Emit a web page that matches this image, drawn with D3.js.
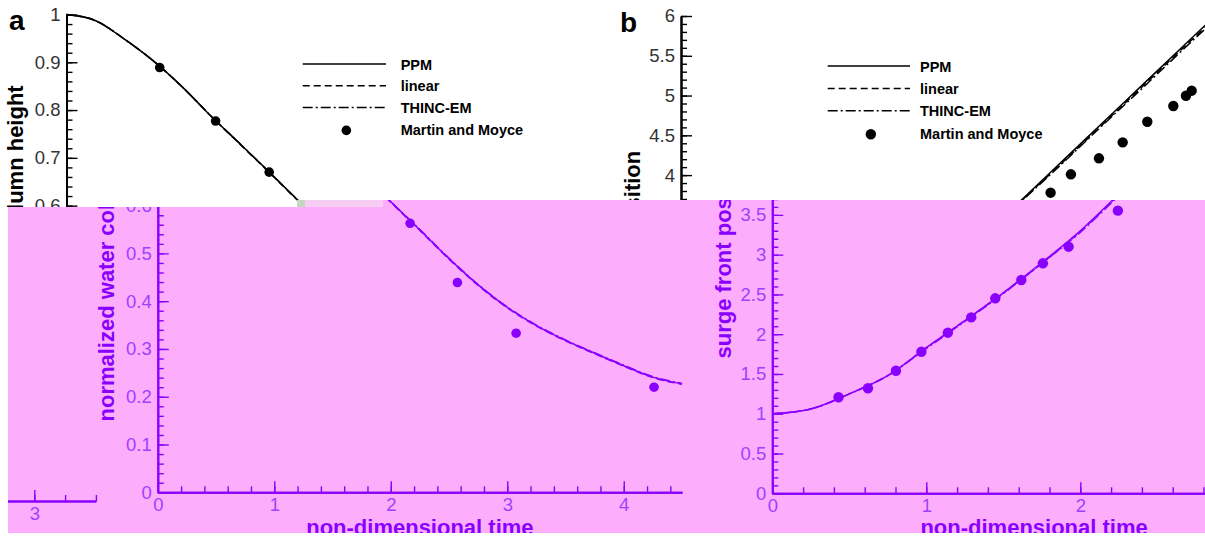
<html>
<script src='https://d3js.org/d3.v7.min.js'></script>
<style> body {margin:0; background:white;} text {font-family: Arial, "Liberation Sans", sans-serif;} </style>
<body>
<svg width=1205 height=536></svg>
<script>
// panel a: normalized water column height vs time
var tA = [0,0.25,0.5,0.75,1,1.25,1.5,1.75,2,2.25,2.5,2.75,3,3.25,3.5,3.75,4,4.25,4.5];
var ppmA    = [1.000,0.987,0.948,0.902,0.847,0.785,0.727,0.668,0.608,0.549,0.489,0.434,0.387,0.349,0.318,0.291,0.265,0.241,0.227];
var linearA = [1.000,0.987,0.948,0.902,0.847,0.785,0.726,0.667,0.607,0.548,0.488,0.433,0.386,0.348,0.317,0.290,0.264,0.240,0.226];
var thincA  = [1.000,0.987,0.948,0.902,0.847,0.785,0.727,0.668,0.608,0.550,0.490,0.435,0.388,0.350,0.319,0.292,0.266,0.242,0.228];
var mmTA = [0.80,1.28,1.74,2.166,2.572,3.076,4.26];
var mmHA = [0.889,0.777,0.670,0.563,0.439,0.333,0.220];

// panel b: surge front position vs time
var tB = [0,0.25,0.5,0.75,1,1.25,1.5,1.75,2,2.25,2.5,2.75,3,3.25,3.5];
var ppmB    = [1.00,1.06,1.25,1.48,1.83,2.17,2.52,2.90,3.30,3.76,4.22,4.68,5.14,5.60,6.06];
var linearB = [1.00,1.06,1.25,1.48,1.83,2.17,2.52,2.89,3.29,3.75,4.20,4.66,5.12,5.58,6.03];
var thincB  = [1.00,1.06,1.25,1.48,1.82,2.16,2.51,2.89,3.28,3.74,4.19,4.65,5.10,5.56,6.01];
var mmTB = [0.430,0.621,0.803,0.968,1.140,1.292,1.448,1.617,1.757,1.924,2.244,2.40,2.532,2.714,2.868,3.028,3.197,3.279,3.316];
var mmXB = [1.207,1.320,1.541,1.780,2.019,2.212,2.451,2.681,2.891,3.100,3.553,3.779,4.010,4.211,4.412,4.671,4.869,4.998,5.061];

var aYTicks = [0,0.1,0.2,0.3,0.4,0.5,0.6,0.7,0.8,0.9,1];
var aYLabels = ["0","0.1","0.2","0.3","0.4","0.5","0.6","0.7","0.8","0.9","1"];
var aXTicks = [0,1,2,3,4];
var bYTicks = [0,0.5,1,1.5,2,2.5,3,3.5,4,4.5,5,5.5,6];
var bYLabels = ["0","0.5","1","1.5","2","2.5","3","3.5","4","4.5","5","5.5","6"];
var bXTicks = [0,1,2,3];
var legendNames = ["PPM","linear","THINC-EM","Martin and Moyce"];
var dashes = [null,"7,4","10,3,2,3"];

var xA = d3.scaleLinear().domain([0,4.5]).range([66.5,590.7]);
var yA = d3.scaleLinear().domain([0,1]).range([492.3,14.5]);
var xB = d3.scaleLinear().domain([0,3.4]).range([681,1204.6]);
var yB = d3.scaleLinear().domain([0,6]).range([493.3,16]);

var svg = d3.select("svg");
var defs = svg.append("defs");
defs.append("clipPath").attr("id","top").append("path").attr("d","M0,0H1205V200H300V207H0Z");
defs.append("clipPath").attr("id","band").append("path").attr("d","M8,207H300V200H1205V533H8Z");
defs.append("clipPath").attr("id","wrap").append("rect").attr("x",8).attr("y",200).attr("width",90).attr("height",333);

function styleAxis(ax, ink, tickInk) {
	ax.attr("font-family", null).attr("font-size", null);
	ax.select(".domain").attr("stroke", ink).attr("stroke-width", 2);
	ax.selectAll(".tick line").attr("stroke", ink).attr("stroke-width", 1.4);
	ax.selectAll(".tick text").attr("fill", tickInk).style("font-size", "18.5px");
}

function panel(g, p, ink, tickInk) {
	var x = p.x, y = p.y;
	var x0 = x.range()[0], y0 = y.range()[0];

	// minor ticks
	styleAxis(g.append("g").attr("transform","translate("+x0+",0)")
		.call(d3.axisLeft(y).tickValues(p.yMinor).tickSize(-6).tickSizeOuter(0).tickFormat("")), ink, tickInk);
	styleAxis(g.append("g").attr("transform","translate(0,"+y0+")")
		.call(d3.axisBottom(x).tickValues(p.xMinor).tickSize(-6).tickSizeOuter(0).tickFormat("")), ink, tickInk);
	// major ticks
	styleAxis(g.append("g").attr("transform","translate("+x0+",0)")
		.call(d3.axisLeft(y).tickValues(p.yTicks).tickSize(-11).tickSizeOuter(0).tickPadding(6).tickFormat((d,i) => p.yLabels[i])), ink, tickInk);
	styleAxis(g.append("g").attr("transform","translate(0,"+y0+")")
		.call(d3.axisBottom(x).tickValues(p.xTicks).tickSize(-11).tickSizeOuter(0).tickPadding(6).tickFormat(d => d)), ink, tickInk);

	// curves
	var line = d3.line().x((d,i) => x(p.t[i])).y(d => y(d)).curve(d3.curveMonotoneX);
	p.series.forEach((s,k) => {
		g.append("path").attr("d", line(s)).attr("fill","none").attr("stroke", ink)
			.attr("stroke-width", 1.5).attr("stroke-dasharray", dashes[k]);
	});
	g.selectAll(null).data(p.mt).enter().append("circle")
		.attr("cx", d => x(d)).attr("cy", (d,i) => y(p.mv[i])).attr("r", p.r).attr("fill", ink);

	// labels
	g.append("text").attr("transform","translate("+p.ylabX+","+((y.range()[0]+y.range()[1])/2)+") rotate(-90)")
		.attr("text-anchor","middle").style("font-size","22px").style("font-weight","bold").attr("fill", ink).text(p.ylab);
	g.append("text").attr("x", (x.range()[0]+x.range()[1])/2).attr("y", 535)
		.attr("text-anchor","middle").style("font-size","22px").style("font-weight","bold").attr("fill", ink).text("non-dimensional time");
	g.append("text").attr("x", p.letter[1]).attr("y", p.letter[2]).style("font-size","28px").style("font-weight","bold")
		.attr("fill", ink).text(p.letter[0]);

	// legend
	var L = p.leg;
	legendNames.forEach((n,i) => {
		var ly = L[3] + i*L[4];
		if (i < 3) {
			g.append("line").attr("x1", L[0]).attr("x2", L[1]).attr("y1", ly).attr("y2", ly)
				.attr("stroke", ink).attr("stroke-width", 1.5).attr("stroke-dasharray", dashes[i]);
		} else {
			g.append("circle").attr("cx", (L[0]+L[1])/2+2).attr("cy", ly+1).attr("r", p.r).attr("fill", ink);
		}
		g.append("text").attr("x", L[2]).attr("y", ly+5.5).style("font-size","14.5px").style("font-weight","bold")
			.attr("fill", ink).text(n);
	});
}

var panelA = {x:xA, y:yA, yTicks:aYTicks, yLabels:aYLabels, xTicks:aXTicks,
	yMinor:d3.range(0,1.001,0.02), xMinor:d3.range(0,4.45,0.2),
	t:tA, series:[ppmA,linearA,thincA], mt:mmTA, mv:mmHA, r:4.8,
	ylab:"normalized water column height", ylabX:23, letter:["a",9,30],
	leg:[302.7,386,400.7,64,21.8]};
var panelB = {x:xB, y:yB, yTicks:bYTicks, yLabels:bYLabels, xTicks:bXTicks,
	yMinor:d3.range(0,6.01,0.1), xMinor:d3.range(0,3.41,0.2),
	t:tB, series:[ppmB,linearB,thincB], mt:mmTB, mv:mmXB, r:5.2,
	ylab:"surge front position", ylabX:640, letter:["b",620,31.5],
	leg:[827.7,910,920,66,22.4]};

function drawFigure(g, ink, tickInk) {
	panel(g, panelA, ink, tickInk);
	panel(g, panelB, ink, tickInk);
}

// original figure, upper part
drawFigure(svg.append("g").attr("clip-path","url(#top)"), "#000", "#333");

// pink shifted band
var band = svg.append("g").attr("clip-path","url(#band)");
band.append("rect").attr("width",1205).attr("height",536).attr("fill","#fcaefc");
drawFigure(band.append("g").attr("transform","translate(91.3,0)"), "#8a00ff", "#a040ff");
var wrap = band.append("g").attr("clip-path","url(#wrap)");
drawFigure(wrap.append("g").attr("transform","translate(-1108.7,7.7)"), "#8a00ff", "#a040ff");

svg.append("rect").attr("x",305).attr("y",200).attr("width",78).attr("height",7).attr("fill","#f7cdf3");
svg.append("rect").attr("x",297).attr("y",200).attr("width",8).attr("height",7).attr("fill","#c5d6bf");
</script>
</body>
</html>
